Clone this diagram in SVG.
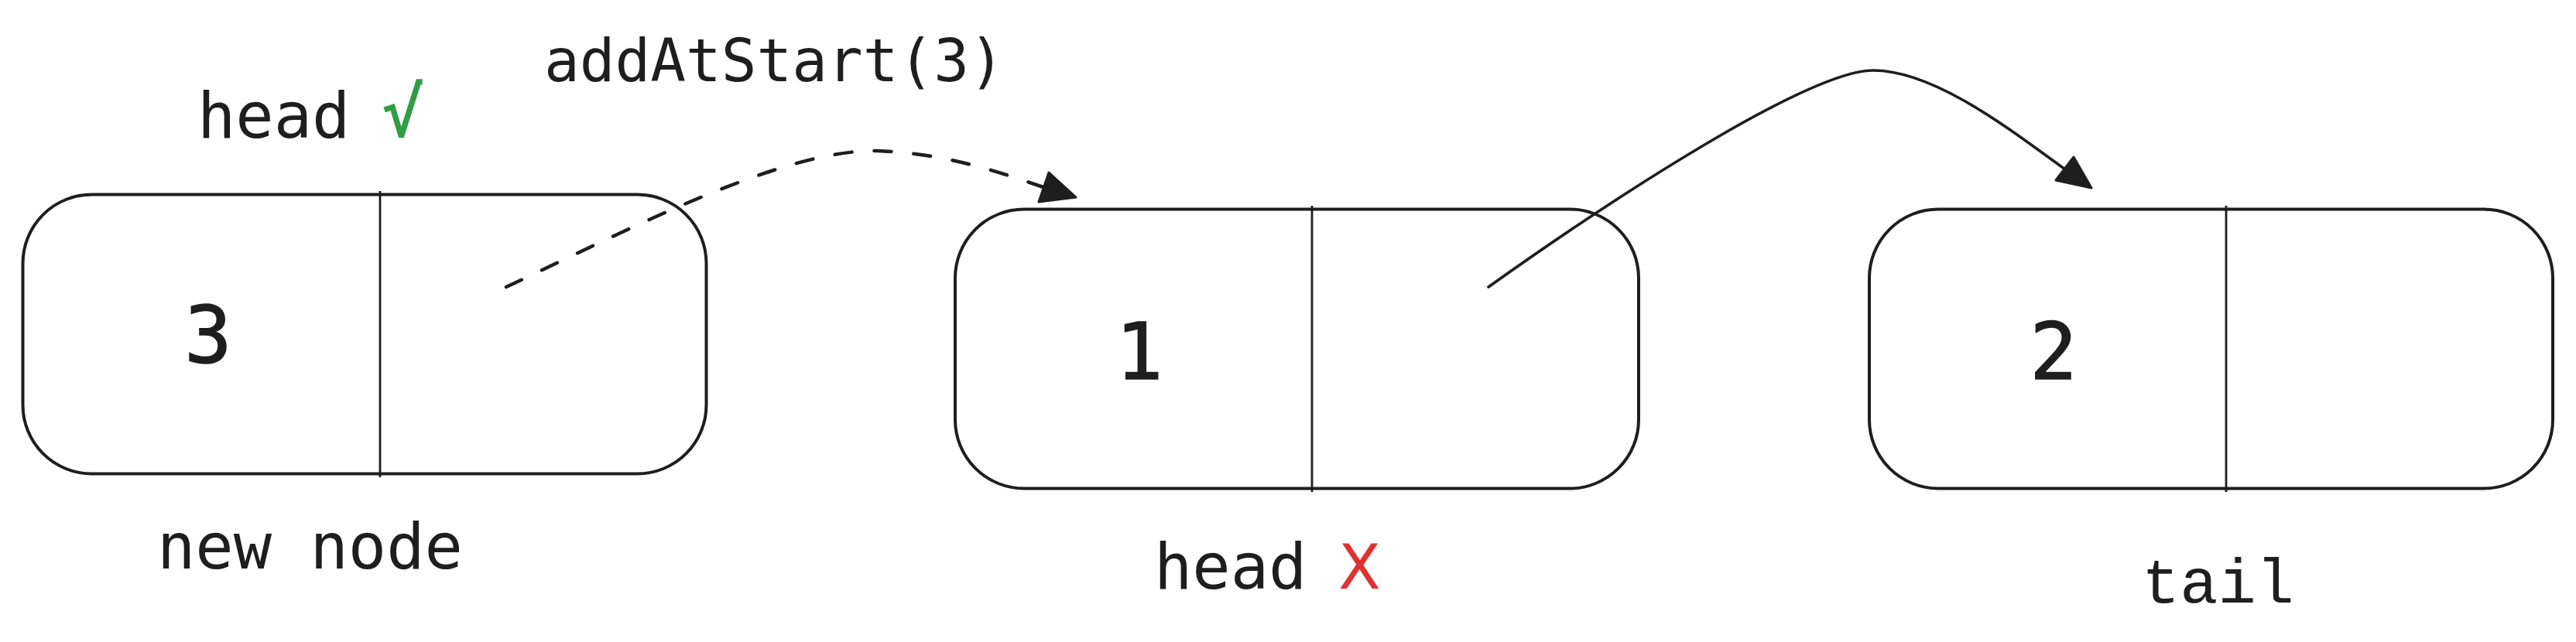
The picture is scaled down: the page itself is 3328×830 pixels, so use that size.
<svg xmlns="http://www.w3.org/2000/svg" width="3328" height="830" viewBox="0 0 3328 830">
<style>
.box{fill:#ffffff;stroke:#1e1e1e;stroke-width:4}
.div{stroke:#1e1e1e;stroke-width:2.8}
.lbl{font-family:"DejaVu Sans Mono","Liberation Mono",monospace;font-size:82px;fill:#1e1e1e}
.num{font-family:"DejaVu Sans Mono","Liberation Mono",monospace;font-size:102px;fill:#1e1e1e;text-anchor:middle;stroke:#1e1e1e;stroke-width:1.5}
.code{font-family:"DejaVu Sans Mono","Liberation Mono",monospace;font-size:76px;fill:#1e1e1e}
.mono{font-family:"Liberation Mono","DejaVu Sans Mono",monospace;font-size:82px;fill:#1e1e1e}
.ok{font-family:"DejaVu Sans Mono","Liberation Mono",monospace;font-size:88px;fill:#2f9e44;stroke:#2f9e44;stroke-width:1.5}
.no{font-family:"DejaVu Sans","Liberation Sans",sans-serif;font-size:80px;fill:#e03131}
.edge{fill:none;stroke:#1e1e1e;stroke-width:3.6;stroke-linecap:round}
.dash{stroke-width:4.5;stroke-dasharray:22 29}
.head{fill:#1e1e1e;stroke:#1e1e1e;stroke-width:3;stroke-linejoin:round}
</style>
<rect width="3328" height="830" fill="#ffffff"/>
<g id="node-new">
<path class="box" d="M118.5,251.5 L823.5,251.5 A89,89 0 0 1 912.5,340.5 L912.5,523.5 A89,89 0 0 1 823.5,612.5 L118.5,612.5 A89,89 0 0 1 29.5,523.5 L29.5,340.5 A89,89 0 0 1 118.5,251.5 Z"/>
<line class="div" x1="491" y1="247" x2="491" y2="617"/>
<text class="num" x="269" y="469">3</text>
<text class="lbl" x="255" y="178">head</text>
<text class="ok" x="494" y="176">√</text>
<text class="lbl" x="203" y="735">new node</text>
</g>
<g id="node-1">
<path class="box" d="M1323,270.5 L2028,270.5 A89,89 0 0 1 2117,359.5 L2117,542.5 A89,89 0 0 1 2028,631.5 L1323,631.5 A89,89 0 0 1 1234,542.5 L1234,359.5 A89,89 0 0 1 1323,270.5 Z"/>
<line class="div" x1="1695" y1="266" x2="1695" y2="636"/>
<text class="num" x="1472" y="490">1</text>
<text class="lbl" x="1491" y="761">head</text>
<text class="no" x="1729" y="761">X</text>
</g>
<g id="node-2">
<path class="box" d="M2504,270.5 L3209,270.5 A89,89 0 0 1 3298,359.5 L3298,542.5 A89,89 0 0 1 3209,631.5 L2504,631.5 A89,89 0 0 1 2415,542.5 L2415,359.5 A89,89 0 0 1 2504,270.5 Z"/>
<line class="div" x1="2876" y1="266" x2="2876" y2="636"/>
<text class="num" x="2653" y="490">2</text>
<text class="mono" x="2767" y="779">tail</text>
</g>
<g id="label-op">
<text class="code" x="703" y="105">addAtStart(3)</text>
</g>
<g id="connectors">
<path class="edge dash" d="M654,371 C800,303 1010,192 1134,195 C1220,198 1290,222 1348,242"/>
<polygon class="head" points="1390,255 1355,223 1342,261"/>
<path class="edge" d="M1923,371 C2100,245 2340,91 2420,91 C2500,91 2600,170 2668,219"/>
<polygon class="head" points="2702,243 2679,203 2656,233"/>
</g>
</svg>
